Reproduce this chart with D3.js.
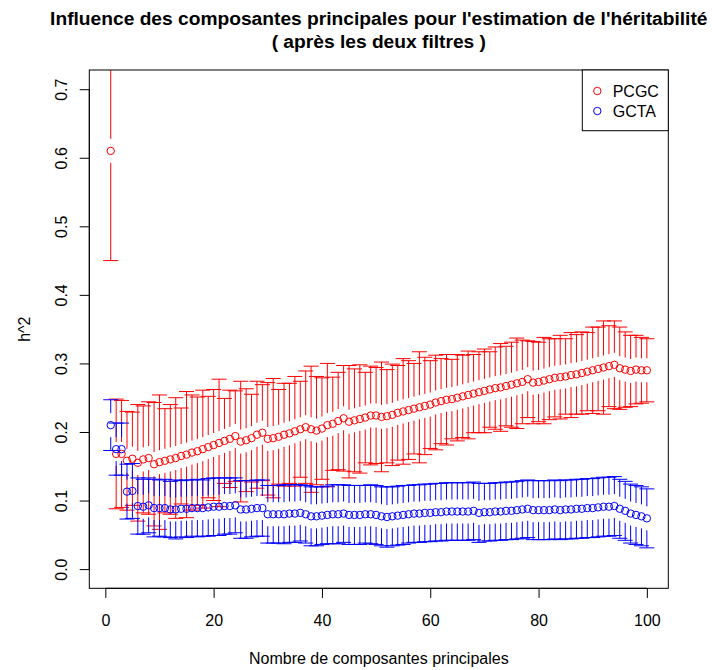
<!DOCTYPE html>
<html>
<head>
<meta charset="utf-8">
<script src="https://cdn.jsdelivr.net/npm/d3@7"></script>
<style>
  html, body { margin: 0; padding: 0; background: #fff; }
  svg { display: block; font-family: "Liberation Sans", Arial, Helvetica, sans-serif; }
</style>
</head>
<body>
<svg id="chart" width="712" height="670"></svg>
<script>
// Number of principal components used (1..100)
const nComponents = d3.range(1, 101);

// PCGC heritability estimates and half-widths of their intervals
const pcgcValues = [
  0.610, 0.168, 0.168, 0.158, 0.161, 0.155, 0.160, 0.162, 0.153, 0.156,
  0.158, 0.160, 0.162, 0.165, 0.167, 0.170, 0.172, 0.175, 0.178, 0.181,
  0.184, 0.187, 0.190, 0.194, 0.186, 0.188, 0.191, 0.196, 0.199, 0.190,
  0.191, 0.193, 0.196, 0.198, 0.201, 0.204, 0.207, 0.204, 0.202, 0.205,
  0.210, 0.212, 0.216, 0.220, 0.215, 0.217, 0.219, 0.221, 0.224, 0.224,
  0.222, 0.223, 0.225, 0.228, 0.230, 0.232, 0.234, 0.236, 0.238, 0.240,
  0.243, 0.245, 0.247, 0.248, 0.250, 0.252, 0.254, 0.256, 0.258, 0.260,
  0.262, 0.264, 0.265, 0.267, 0.269, 0.271, 0.273, 0.277, 0.272, 0.273,
  0.275, 0.277, 0.279, 0.280, 0.281, 0.283, 0.284, 0.286, 0.288, 0.290,
  0.292, 0.294, 0.296, 0.298, 0.293, 0.291, 0.289, 0.291, 0.290, 0.290
];
const pcgcErrors = [
  0.160, 0.080, 0.078, 0.072, 0.068, 0.085, 0.078, 0.082, 0.090, 0.098,
  0.076, 0.080, 0.088, 0.070, 0.092, 0.084, 0.079, 0.086, 0.074, 0.081,
  0.093, 0.062, 0.071, 0.066, 0.088, 0.075, 0.064, 0.078, 0.070, 0.082,
  0.087, 0.069, 0.075, 0.073, 0.080, 0.070, 0.082, 0.092, 0.079, 0.074,
  0.090, 0.068, 0.071, 0.077, 0.082, 0.075, 0.079, 0.066, 0.072, 0.070,
  0.080, 0.068, 0.074, 0.069, 0.077, 0.072, 0.066, 0.081, 0.071, 0.064,
  0.069, 0.062, 0.066, 0.058, 0.063, 0.060, 0.064, 0.057, 0.059, 0.061,
  0.055, 0.060, 0.064, 0.058, 0.062, 0.066, 0.061, 0.056, 0.060, 0.058,
  0.063, 0.059, 0.057, 0.061, 0.055, 0.062, 0.058, 0.060, 0.057, 0.063,
  0.061, 0.068, 0.059, 0.064, 0.060, 0.055, 0.052, 0.050, 0.048, 0.046
];

// GCTA heritability estimates and half-widths of their intervals
const gctaValues = [
  0.210, 0.175, 0.175, 0.113, 0.114, 0.092, 0.091, 0.093, 0.089, 0.089,
  0.089, 0.087, 0.087, 0.088, 0.088, 0.089, 0.089, 0.089, 0.090, 0.091,
  0.091, 0.092, 0.092, 0.093, 0.087, 0.087, 0.088, 0.089, 0.089, 0.080,
  0.080, 0.080, 0.080, 0.081, 0.081, 0.082, 0.080, 0.077, 0.077, 0.078,
  0.079, 0.080, 0.080, 0.081, 0.079, 0.079, 0.079, 0.080, 0.080, 0.079,
  0.077, 0.076, 0.077, 0.078, 0.079, 0.080, 0.081, 0.081, 0.082, 0.082,
  0.083, 0.083, 0.084, 0.084, 0.084, 0.084, 0.084, 0.085, 0.082, 0.083,
  0.083, 0.084, 0.084, 0.085, 0.085, 0.086, 0.087, 0.088, 0.086, 0.086,
  0.086, 0.086, 0.087, 0.086, 0.087, 0.087, 0.088, 0.088, 0.089, 0.089,
  0.090, 0.091, 0.091, 0.092, 0.088, 0.085, 0.081, 0.079, 0.077, 0.074
];
const gctaErrors = [
  0.037, 0.038, 0.038, 0.040, 0.040, 0.041, 0.040, 0.040, 0.042, 0.041,
  0.042, 0.041, 0.043, 0.041, 0.042, 0.041, 0.042, 0.041, 0.042, 0.042,
  0.042, 0.041, 0.041, 0.040, 0.042, 0.042, 0.041, 0.041, 0.041, 0.042,
  0.042, 0.042, 0.043, 0.042, 0.042, 0.041, 0.042, 0.043, 0.043, 0.042,
  0.042, 0.043, 0.043, 0.042, 0.043, 0.043, 0.043, 0.042, 0.043, 0.043,
  0.043, 0.044, 0.043, 0.043, 0.043, 0.042, 0.042, 0.042, 0.042, 0.042,
  0.042, 0.042, 0.042, 0.042, 0.042, 0.042, 0.042, 0.042, 0.043, 0.042,
  0.042, 0.042, 0.042, 0.042, 0.042, 0.042, 0.042, 0.042, 0.043, 0.043,
  0.043, 0.043, 0.043, 0.043, 0.043, 0.043, 0.043, 0.043, 0.043, 0.043,
  0.043, 0.043, 0.043, 0.043, 0.043, 0.043, 0.043, 0.043, 0.043, 0.043
];

const xTicks = [0, 20, 40, 60, 80, 100];
const yTicks = [0.0, 0.1, 0.2, 0.3, 0.4, 0.5, 0.6, 0.7];
const seriesNames = ["PCGC", "GCTA"];
const seriesColors = ["#ff0000", "#0000ff"];

const titleLines = [
  "Influence des composantes principales pour l'estimation de l'héritabilité",
  "( après les deux filtres )"
];
const xLabel = "Nombre de composantes principales";
const yLabel = "h^2";

// Plot region
const plot = { left: 89.3, right: 668.3, top: 70, bottom: 588.3 };
const svg = d3.select("#chart");

// Axis ranges padded by 4% like base graphics
const xMin = 1, xMax = 100;
const xPad = (xMax - xMin) * 0.04;
const x = d3.scaleLinear().domain([xMin - xPad, xMax + xPad]).range([plot.left, plot.right]);
const yLo = 0, yHi = 0.7;
const yPad = (yHi - yLo) * 0.04;
const y = d3.scaleLinear().domain([yLo - yPad, yHi + yPad]).range([plot.bottom, plot.top]);

svg.append("defs").append("clipPath").attr("id", "plotClip")
  .append("rect")
  .attr("x", plot.left).attr("y", plot.top)
  .attr("width", plot.right - plot.left).attr("height", plot.bottom - plot.top);

const gap = 12;      // gap around each point, px
const capHalf = 7.5; // half width of interval caps, px
const radius = 3.7;

const series = [
  { name: seriesNames[0], color: seriesColors[0], values: pcgcValues, errors: pcgcErrors },
  { name: seriesNames[1], color: seriesColors[1], values: gctaValues, errors: gctaErrors }
];

const marks = svg.append("g").attr("clip-path", "url(#plotClip)");

series.forEach(s => {
  const rows = nComponents.map((n, i) => ({ n, v: s.values[i], e: s.errors[i] }));
  const g = marks.append("g")
    .attr("stroke", s.color).attr("stroke-width", 1).attr("fill", "none");

  // interval segments with a gap around the point
  rows.forEach(d => {
    const cx = x(d.n), cy = y(d.v);
    const yUp = y(d.v + d.e), yDn = y(d.v - d.e);
    if (cy - gap > yUp) {
      g.append("line").attr("x1", cx).attr("x2", cx).attr("y1", yUp).attr("y2", cy - gap);
    }
    if (cy + gap < yDn) {
      g.append("line").attr("x1", cx).attr("x2", cx).attr("y1", cy + gap).attr("y2", yDn);
    }
    g.append("line").attr("x1", cx - capHalf).attr("x2", cx + capHalf).attr("y1", yUp).attr("y2", yUp);
    g.append("line").attr("x1", cx - capHalf).attr("x2", cx + capHalf).attr("y1", yDn).attr("y2", yDn);
  });

  g.selectAll("circle").data(rows).join("circle")
    .attr("cx", d => x(d.n)).attr("cy", d => y(d.v)).attr("r", radius);
});

// Plot box
svg.append("rect")
  .attr("x", plot.left).attr("y", plot.top)
  .attr("width", plot.right - plot.left).attr("height", plot.bottom - plot.top)
  .attr("fill", "none").attr("stroke", "#000").attr("stroke-width", 1);

// X axis
const xAxis = svg.append("g").attr("transform", `translate(0,${plot.bottom})`)
  .call(d3.axisBottom(x).tickValues(xTicks).tickFormat(d3.format("d")).tickSize(9.6).tickPadding(8));
xAxis.select(".domain").remove();
xAxis.append("line").attr("x1", x(xTicks[0])).attr("x2", x(xTicks[xTicks.length - 1]))
  .attr("y1", 0).attr("y2", 0).attr("stroke", "#000");
xAxis.selectAll("text").attr("font-size", 16).attr("fill", "#000")
  .attr("font-family", "Liberation Sans, Arial, sans-serif")
  .attr("y", 37.7).attr("dy", null);

// Y axis with labels parallel to the axis
const yAxis = svg.append("g").attr("transform", `translate(${plot.left},0)`)
  .call(d3.axisLeft(y).tickValues(yTicks).tickFormat(d3.format(".1f")).tickSize(9.6));
yAxis.select(".domain").remove();
yAxis.append("line").attr("x1", 0).attr("x2", 0)
  .attr("y1", y(yTicks[0])).attr("y2", y(yTicks[yTicks.length - 1])).attr("stroke", "#000");
yAxis.selectAll("text").attr("font-size", 16).attr("fill", "#000")
  .attr("font-family", "Liberation Sans, Arial, sans-serif")
  .attr("transform", "rotate(-90)")
  .attr("x", 0).attr("y", -22.5).attr("dy", null)
  .attr("text-anchor", "middle");

// Axis titles
svg.append("text")
  .attr("x", (plot.left + plot.right) / 2).attr("y", 664)
  .attr("text-anchor", "middle").attr("font-size", 16).text(xLabel);
svg.append("text")
  .attr("transform", `translate(29.5,${(plot.top + plot.bottom) / 2}) rotate(-90)`)
  .attr("text-anchor", "middle").attr("font-size", 16).text(yLabel);

// Main title
svg.selectAll("text.title").data(titleLines).join("text")
  .attr("class", "title")
  .attr("x", (plot.left + plot.right) / 2)
  .attr("y", (d, i) => 25 + i * 23)
  .attr("text-anchor", "middle").attr("font-size", 19.2).attr("font-weight", "bold")
  .text(d => d);

// Legend
const legend = svg.append("g");
legend.append("rect")
  .attr("x", 582.3).attr("y", plot.top)
  .attr("width", plot.right - 582.3).attr("height", 60.7)
  .attr("fill", "#fff").attr("stroke", "#000");
series.forEach((s, i) => {
  const ly = 91 + i * 20;
  legend.append("circle").attr("cx", 597.3).attr("cy", ly).attr("r", radius)
    .attr("fill", "none").attr("stroke", s.color);
  legend.append("text").attr("x", 612.7).attr("y", ly + 5.5)
    .attr("font-size", 16).text(s.name);
});
</script>
</body>
</html>
